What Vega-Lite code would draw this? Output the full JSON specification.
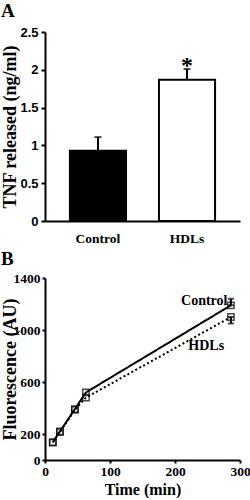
{
  "$schema": "https://vega.github.io/schema/vega-lite/v6.json",
  "padding": {"left": 0, "top": 2, "right": 5, "bottom": 0},
  "background": "white",
  "spacing": 5,
  "config": {
    "view": {"stroke": null},
    "axis": {
      "grid": false,
      "domainColor": "black",
      "domainWidth": 2,
      "tickColor": "black",
      "tickWidth": 2,
      "tickSize": 4,
      "labelColor": "black",
      "titleColor": "black",
      "titleFont": "Liberation Serif",
      "titleFontWeight": "bold",
      "titleFontSize": 16,
      "labelFontWeight": "bold",
      "labelOverlap": false,
      "labelFlush": false
    },
    "title": {"font": "Liberation Serif", "fontWeight": "bold", "fontSize": 19, "anchor": "start", "frame": "bounds", "color": "black"}
  },
  "vconcat": [
    {
      "title": {"text": "A", "offset": 5},
      "width": 195,
      "height": 189,
      "data": {"values": [
        {"group": "Control", "value": 0.93, "upper": 1.11, "mark": ""},
        {"group": "HDLs", "value": 1.87, "upper": 2.01, "mark": "*"}
      ]},
      "encoding": {
        "x": {"field": "group", "type": "nominal", "sort": null,
          "scale": {"paddingInner": 0.37, "paddingOuter": 0.28},
          "axis": {"title": null, "labelAngle": 0, "ticks": false, "labelFont": "Liberation Serif", "labelFontSize": 13.5, "labelPadding": 10}},
        "y": {"field": "value", "type": "quantitative",
          "scale": {"domain": [0, 2.5]},
          "axis": {"title": "TNF released (ng/ml)", "values": [0, 0.5, 1, 1.5, 2, 2.5], "format": "~g",
            "labelFont": "Liberation Sans", "labelFontSize": 13, "labelPadding": 3,
            "titleX": -35, "titleBaseline": "middle", "titleFontSize": 18}}
      },
      "layer": [
        {
          "mark": {"type": "rule", "color": "black", "strokeWidth": 2},
          "encoding": {
            "y2": {"field": "upper"}
          }
        },
        {
          "mark": {"type": "tick", "color": "black", "thickness": 2, "size": 7},
          "encoding": {"y": {"field": "upper", "type": "quantitative", "axis": {"values": [0, 0.5, 1, 1.5, 2, 2.5], "format": "~g"}}}
        },
        {
          "mark": {"type": "bar", "stroke": "black", "strokeWidth": 2},
          "encoding": {
            "fill": {"field": "group", "type": "nominal", "scale": {"domain": ["Control", "HDLs"], "range": ["black", "white"]}, "legend": null}
          }
        },
        {
          "mark": {"type": "text", "font": "Liberation Serif", "fontWeight": "bold", "fontSize": 24, "baseline": "middle", "dy": -3},
          "encoding": {
            "y": {"field": "upper", "type": "quantitative", "axis": {"values": [0, 0.5, 1, 1.5, 2, 2.5], "format": "~g"}},
            "text": {"field": "mark"}
          }
        }
      ]
    },
    {
      "title": {"text": "B", "offset": 2},
      "width": 195,
      "height": 182,
      "layer": [
        {
          "data": {"values": [
            {"t": 12, "v": 138, "series": "Control"},
            {"t": 23, "v": 220, "series": "Control"},
            {"t": 46, "v": 392, "series": "Control"},
            {"t": 63, "v": 520, "series": "Control"},
            {"t": 286, "v": 1190, "series": "Control"},
            {"t": 12, "v": 134, "series": "HDLs"},
            {"t": 23, "v": 214, "series": "HDLs"},
            {"t": 46, "v": 386, "series": "HDLs"},
            {"t": 63, "v": 480, "series": "HDLs"},
            {"t": 286, "v": 1100, "series": "HDLs"}
          ]},
          "layer": [
            {
              "mark": {"type": "line", "color": "black", "strokeWidth": 2},
              "encoding": {
                "x": {"field": "t", "type": "quantitative", "scale": {"domain": [0, 300]},
                  "axis": {"title": "Time (min)", "values": [0, 50, 100, 150, 200, 250, 300], "tickSize": 3,
                    "labelFont": "Liberation Serif", "labelFontSize": 13.5, "labelPadding": 1, "titlePadding": 4, "titleFontSize": 16}},
                "y": {"field": "v", "type": "quantitative", "scale": {"domain": [0, 1400]},
                  "axis": {"title": "Fluorescence (AU)", "values": [0, 200, 600, 1000, 1400], "format": "d", "tickSize": 3,
                    "labelFont": "Liberation Serif", "labelFontSize": 13.5, "labelPadding": 2,
                    "titleX": -35, "titleBaseline": "middle", "titleFontSize": 18}},
                "strokeDash": {"field": "series", "type": "nominal", "scale": {"domain": ["Control", "HDLs"], "range": [[1, 0], [2, 2.5]]}, "legend": null}
              }
            },
            {
              "mark": {"type": "point", "shape": "square", "filled": false, "color": "black", "strokeWidth": 1.5, "size": 40},
              "encoding": {
                "x": {"field": "t", "type": "quantitative"},
                "y": {"field": "v", "type": "quantitative"}
              }
            }
          ]
        },
        {
          "data": {"values": [
            {"t": 286, "lo": 1190, "hi": 1240},
            {"t": 286, "lo": 1050, "hi": 1100}
          ]},
          "layer": [
            {
              "mark": {"type": "rule", "color": "black", "strokeWidth": 2},
              "encoding": {
                "x": {"field": "t", "type": "quantitative"},
                "y": {"field": "lo", "type": "quantitative"},
                "y2": {"field": "hi"}
              }
            },
            {
              "mark": {"type": "tick", "color": "black", "thickness": 2, "size": 6, "orient": "horizontal"},
              "encoding": {
                "x": {"field": "t", "type": "quantitative"},
                "y": {"field": "hi", "type": "quantitative"}
              }
            },
            {
              "mark": {"type": "tick", "color": "black", "thickness": 2, "size": 6, "orient": "horizontal"},
              "encoding": {
                "x": {"field": "t", "type": "quantitative"},
                "y": {"field": "lo", "type": "quantitative"}
              }
            }
          ]
        },
        {
          "data": {"values": [
            {"t": 245, "v": 1225, "label": "Control"},
            {"t": 248, "v": 880, "label": "HDLs"}
          ]},
          "mark": {"type": "text", "font": "Liberation Serif", "fontWeight": "bold", "fontSize": 14, "color": "black"},
          "encoding": {
            "x": {"field": "t", "type": "quantitative"},
            "y": {"field": "v", "type": "quantitative"},
            "text": {"field": "label"}
          }
        }
      ]
    }
  ]
}
